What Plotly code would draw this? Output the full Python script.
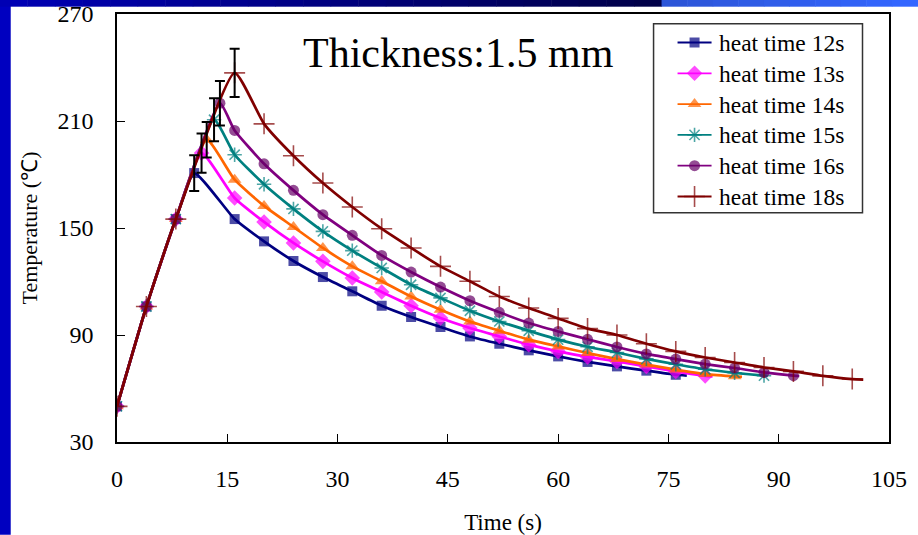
import plotly.graph_objects as go

# ---------------- data ----------------
series_names = ["heat time 12s", "heat time 13s", "heat time 14s",
                "heat time 15s", "heat time 16s", "heat time 18s"]

t_12 = [0, 4, 8, 10.5, 16, 20, 24, 28, 32, 36, 40, 44, 48, 52, 56, 60, 64, 68, 72, 76, 77.5]
T_12 = [50, 106, 155, 180.8, 155.0, 142.5, 131.5, 122.5, 114.5, 106.4, 100.1, 94.5, 89.2, 85.1,
        81.4, 78.0, 74.9, 72.4, 70.0, 67.7, 67.2]

t_13 = [0, 4, 8, 11.5, 16, 20, 24, 28, 32, 36, 40, 44, 48, 52, 56, 60, 64, 68, 72, 76, 80, 81]
T_13 = [50, 106, 155, 192.0, 166.8, 153.4, 141.6, 131.3, 122.0, 114.1, 106.4, 99.5, 93.9, 89.2,
        84.6, 80.8, 77.7, 75.2, 72.4, 69.6, 67.1, 66.8]

t_14 = [0, 4, 8, 12.2, 16, 20, 24, 28, 32, 36, 40, 44, 48, 52, 56, 60, 64, 68, 72, 76, 80, 84, 85]
T_14 = [50, 106, 155, 199.5, 177.1, 162.4, 150.6, 138.8, 128.5, 120.1, 111.6, 104.2, 97.6, 92.4,
        87.4, 83.6, 79.9, 76.5, 73.4, 70.6, 68.1, 66.8, 66.5]

t_15 = [0, 4, 8, 13.2, 16, 20, 24, 28, 32, 36, 40, 44, 48, 52, 56, 60, 64, 68, 72, 76, 80, 84, 88, 88.5]
T_15 = [50, 106, 155, 210.7, 191.1, 174.5, 160.7, 148.1, 137.3, 127.6, 118.2, 110.8, 103.6, 97.6,
        92.4, 87.4, 83.4, 80.2, 76.6, 73.6, 70.8, 68.8, 67.2, 67.0]

t_16 = [0, 4, 8, 14, 16, 20, 24, 28, 32, 36, 40, 44, 48, 52, 56, 60, 64, 68, 72, 76, 80, 84, 88, 92, 92.8]
T_16 = [50, 106, 155, 220.0, 204.7, 186.0, 171.1, 157.5, 145.9, 134.6, 125.3, 116.9, 109.2, 102.7,
        96.7, 92.0, 87.6, 83.3, 79.4, 76.5, 73.7, 71.5, 69.0, 67.2, 67.0]

t_18 = [0, 4, 8, 16, 20, 24, 28, 32, 36, 40, 44, 48, 52, 56, 60, 64, 68, 72, 76, 80, 84, 88, 92, 96, 100, 101.5]
T_18 = [50, 106, 155, 237.0, 208.4, 190.5, 175.2, 161.8, 149.6, 138.8, 128.5, 120.1, 111.6, 105.1,
        99.3, 93.6, 90.0, 85.1, 80.8, 77.4, 74.6, 71.8, 69.6, 67.1, 65.3, 65.0]

peak_err = [10, 11, 10, 12, 12.5, 13.5]   # error bars at each curve's peak

x_ticks = [0, 15, 30, 45, 60, 75, 90, 105]
y_ticks = [30, 90, 150, 210, 270]

# ---------------- styles ----------------
FONT = "Liberation Serif, Times New Roman, serif"
series = [(t_12, T_12), (t_13, T_13), (t_14, T_14), (t_15, T_15), (t_16, T_16), (t_18, T_18)]
line_colors = ["#000080", "#FF00FF", "#FF6600", "#008080", "#800080", "#800000"]
marker_colors = ["#000080", "#FF00FF", "#FF6600", "#008080", "#660066", "#800000"]
symbols = ["square", "diamond", "triangle-up", "asterisk-open", "circle", "cross-thin-open"]
msizes = [10, 12, 12, 12, 11, 15]


def marker_style(i, sizes):
    mk = dict(symbol=symbols[i], size=sizes, color=marker_colors[i])
    if symbols[i].endswith("-open"):
        mk["line"] = dict(color=marker_colors[i], width=1.6)
    else:
        mk["line"] = dict(width=0)
    return mk


fig = go.Figure()
for i, ((tx, ty), name) in enumerate(zip(series, series_names)):
    n = len(tx)
    sizes = [msizes[i]] * (n - 1) + [0]
    fig.add_trace(go.Scatter(
        x=tx, y=ty, name=name, mode="lines+markers",
        line=dict(color=line_colors[i], width=2.7, shape="spline", smoothing=0.5),
        marker=marker_style(i, sizes), showlegend=False,
    ))

# error bars at the peaks
px, py = [], []
for tx, ty in series:
    k = ty.index(max(ty))
    px.append(tx[k])
    py.append(ty[k])
fig.add_trace(go.Scatter(
    x=px, y=py, mode="markers", marker=dict(size=1, color="rgba(0,0,0,0)"),
    error_y=dict(type="data", array=peak_err, visible=True, color="black", thickness=2, width=5),
    showlegend=False, hoverinfo="skip",
))

# ---------------- layout geometry (pixels) ----------------
L, R, T, B = 117.3, 889.5, 14.3, 442.3
W, H = 918, 535
def pxx(v):
    return (v - L) / (R - L)
def pyy(v):
    return (B - v) / (B - T)

shapes = []
annotations = []

# legend drawn by hand (box, samples on a pixel-space overlay axis, texts)
LEG_X0, LEG_X1, LEG_Y0, LEG_Y1 = 654, 863, 24, 213
ROW0, ROW_STEP = 42.8, 30.8
shapes.append(dict(type="rect", xref="paper", yref="paper",
                   x0=pxx(LEG_X0), x1=pxx(LEG_X1), y0=pyy(LEG_Y1), y1=pyy(LEG_Y0),
                   fillcolor="white", line=dict(color="#333333", width=1.5), layer="below"))
for i, name in enumerate(series_names):
    ry = ROW0 + ROW_STEP * i
    fig.add_trace(go.Scatter(
        x=[678, 695, 712], y=[ry, ry, ry], xaxis="x2", yaxis="y2",
        mode="lines+markers", line=dict(color=line_colors[i], width=1.8),
        marker=marker_style(i, [0, msizes[i], 0]), showlegend=False, hoverinfo="skip",
    ))
    annotations.append(dict(text=name, xref="paper", yref="paper",
                            x=pxx(717), y=pyy(ry + 0.5), xanchor="left", yanchor="middle",
                            showarrow=False, font=dict(family=FONT, size=23.5, color="black")))

annotations.append(dict(text="Thickness:1.5 mm", xref="paper", yref="paper",
                        x=pxx(459), y=pyy(53), xanchor="center", yanchor="middle",
                        showarrow=False, font=dict(family=FONT, size=42, color="black")))

# slide decoration: left bar + top gradient bar
shapes.append(dict(type="rect", xref="paper", yref="paper", x0=pxx(0), x1=pxx(11),
                   y0=pyy(H), y1=pyy(0), fillcolor="#0000C0", line=dict(width=0), layer="above"))
nseg = 24
x_split = 662
for s in range(nseg):
    xa = x_split * s / nseg
    xb = x_split * (s + 1) / nseg + 0.5
    f = s / (nseg - 1)
    b = int(round(0xB4 + (0x48 - 0xB4) * f))
    shapes.append(dict(type="rect", xref="paper", yref="paper", x0=pxx(xa), x1=pxx(xb),
                       y0=pyy(7), y1=pyy(0), fillcolor=f"#0000{b:02X}", line=dict(width=0)))
nseg2 = 10
for s in range(nseg2):
    xa = x_split + (W - x_split) * s / nseg2
    xb = x_split + (W - x_split) * (s + 1) / nseg2 + 0.5
    f = s / (nseg2 - 1)
    r = int(round(0x2C + (0x33 - 0x2C) * f))
    g = int(round(0x55 + (0x66 - 0x55) * f))
    bb = int(round(0xD8 + (0xFF - 0xD8) * f))
    shapes.append(dict(type="rect", xref="paper", yref="paper", x0=pxx(xa), x1=pxx(xb),
                       y0=pyy(7), y1=pyy(0), fillcolor=f"#{r:02X}{g:02X}{bb:02X}", line=dict(width=0)))

axis_common = dict(showline=True, linecolor="black", linewidth=1.5, mirror=True,
                   ticks="inside", ticklen=8, tickwidth=1.3, tickcolor="black",
                   showgrid=False, zeroline=False, automargin=False,
                   tickfont=dict(family=FONT, size=24, color="black"))

fig.update_layout(
    width=W, height=H,
    margin=dict(l=L, r=W - R, t=T, b=H - B, autoexpand=False),
    paper_bgcolor="white", plot_bgcolor="rgba(0,0,0,0)",
    font=dict(family=FONT, color="black"),
    xaxis=dict(range=[0, 105], tickvals=x_ticks, ticklabelstandoff=14,
               title=dict(text="Time (s)", font=dict(family=FONT, size=23), standoff=27),
               **axis_common),
    yaxis=dict(range=[30, 270], tickvals=y_ticks, ticklabelstandoff=17,
               title=dict(text="Temperature (℃)", font=dict(family=FONT, size=22), standoff=14),
               **axis_common),
    xaxis2=dict(overlaying="x", range=[L, R], visible=False, fixedrange=True),
    yaxis2=dict(overlaying="y", range=[B, T], visible=False, fixedrange=True),
    showlegend=False,
    shapes=shapes,
    annotations=annotations,
)

fig.write_html("out.html")
